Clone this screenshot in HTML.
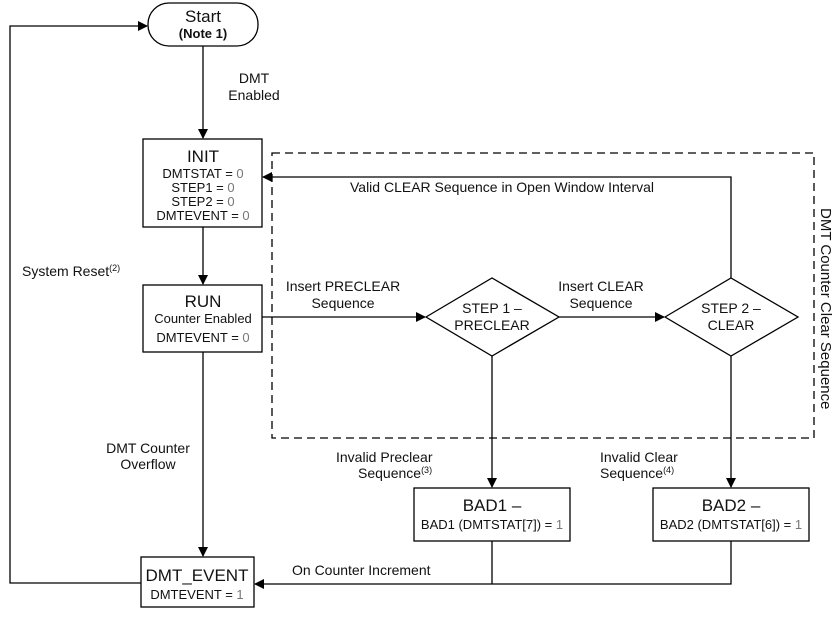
<!DOCTYPE html>
<html><head><style>
body{margin:0;background:#fff}
svg text{font-family:"Liberation Sans",Arial,sans-serif;fill:#111}
</style></head><body>
<svg width="840" height="620" viewBox="0 0 840 620" xmlns="http://www.w3.org/2000/svg">
<defs><marker id="a" markerWidth="10" markerHeight="10" refX="9" refY="5" orient="auto" markerUnits="userSpaceOnUse"><path d="M0,0 L10,5 L0,10 z" fill="#000"/></marker></defs>
<g stroke="#000" stroke-width="1.3" fill="none">
<rect x="272" y="153" width="542" height="285" stroke-dasharray="8,5"/>
<rect x="148" y="3" width="110" height="43" rx="21" fill="#fff"/>
<rect x="143" y="139" width="119" height="88" fill="#fff"/>
<rect x="143" y="285" width="119" height="67" fill="#fff"/>
<rect x="141" y="557" width="113" height="50" fill="#fff"/>
<rect x="414" y="488" width="156" height="53" fill="#fff"/>
<rect x="653" y="488" width="156" height="53" fill="#fff"/>
<polygon points="426,317 492,278 559,317 492,356" fill="#fff"/>
<polygon points="665,317 731,278 798,317 731,356" fill="#fff"/>
<line x1="203" y1="46" x2="203" y2="138" marker-end="url(#a)"/>
<line x1="203" y1="227" x2="203" y2="284" marker-end="url(#a)"/>
<line x1="203" y1="352" x2="203" y2="556" marker-end="url(#a)"/>
<polyline points="141,583 10,583 10,26 147,26" marker-end="url(#a)"/>
<line x1="262" y1="317" x2="425" y2="317" marker-end="url(#a)"/>
<line x1="559" y1="317" x2="664" y2="317" marker-end="url(#a)"/>
<polyline points="731,278 731,177 263,177" marker-end="url(#a)"/>
<line x1="492" y1="356" x2="492" y2="487" marker-end="url(#a)"/>
<line x1="731" y1="356" x2="731" y2="487" marker-end="url(#a)"/>
<line x1="492" y1="541" x2="492" y2="584"/>
<polyline points="731,541 731,584 255,584" marker-end="url(#a)"/>
</g>
<g text-anchor="middle" font-size="13">
<text x="203" y="22" font-size="17">Start</text>
<text x="203" y="38" font-weight="bold" font-size="13">(Note 1)</text>
<text x="254" y="83" font-size="14">DMT</text><text x="254" y="100" font-size="14">Enabled</text>
<text x="203" y="162" font-size="17">INIT</text>
<text x="203" y="178">DMTSTAT = <tspan fill="#777">0</tspan></text>
<text x="203" y="192">STEP1 = <tspan fill="#777">0</tspan></text>
<text x="203" y="206">STEP2 = <tspan fill="#777">0</tspan></text>
<text x="203" y="220">DMTEVENT = <tspan fill="#777">0</tspan></text>
<text x="203" y="307" font-size="17">RUN</text>
<text x="203" y="323">Counter Enabled</text>
<text x="203" y="342">DMTEVENT = <tspan fill="#777">0</tspan></text>
<text x="197" y="581" font-size="17">DMT_EVENT</text>
<text x="197" y="599">DMTEVENT = <tspan fill="#777">1</tspan></text>
<text x="492" y="313" font-size="14">STEP 1 –</text><text x="492" y="330" font-size="14">PRECLEAR</text>
<text x="731" y="313" font-size="14">STEP 2 –</text><text x="731" y="330" font-size="14">CLEAR</text>
<text x="492" y="511" font-size="17">BAD1 –</text>
<text x="492" y="529">BAD1 (DMTSTAT[7]) = <tspan fill="#777">1</tspan></text>
<text x="731" y="511" font-size="17">BAD2 –</text>
<text x="731" y="529">BAD2 (DMTSTAT[6]) = <tspan fill="#777">1</tspan></text>
<g font-size="14">
<text x="343" y="291">Insert PRECLEAR</text><text x="343" y="308">Sequence</text>
<text x="601" y="291">Insert CLEAR</text><text x="601" y="308">Sequence</text>
<text x="148" y="453">DMT Counter</text><text x="148" y="469">Overflow</text>
<text x="502" y="192">Valid CLEAR Sequence in Open Window Interval</text>
</g>
</g>
<g font-size="14">
<text x="22" y="276">System Reset<tspan font-size="9" dy="-5">(2)</tspan></text>
<text x="336" y="462">Invalid Preclear</text>
<text x="358" y="478">Sequence<tspan font-size="9" dy="-5">(3)</tspan></text>
<text x="600" y="462">Invalid Clear</text>
<text x="600" y="478">Sequence<tspan font-size="9" dy="-5">(4)</tspan></text>
<text x="292" y="575">On Counter Increment</text>
<text transform="translate(821,208) rotate(90)" font-size="15">DMT Counter Clear Sequence</text>
</g>
</svg>
</body></html>
